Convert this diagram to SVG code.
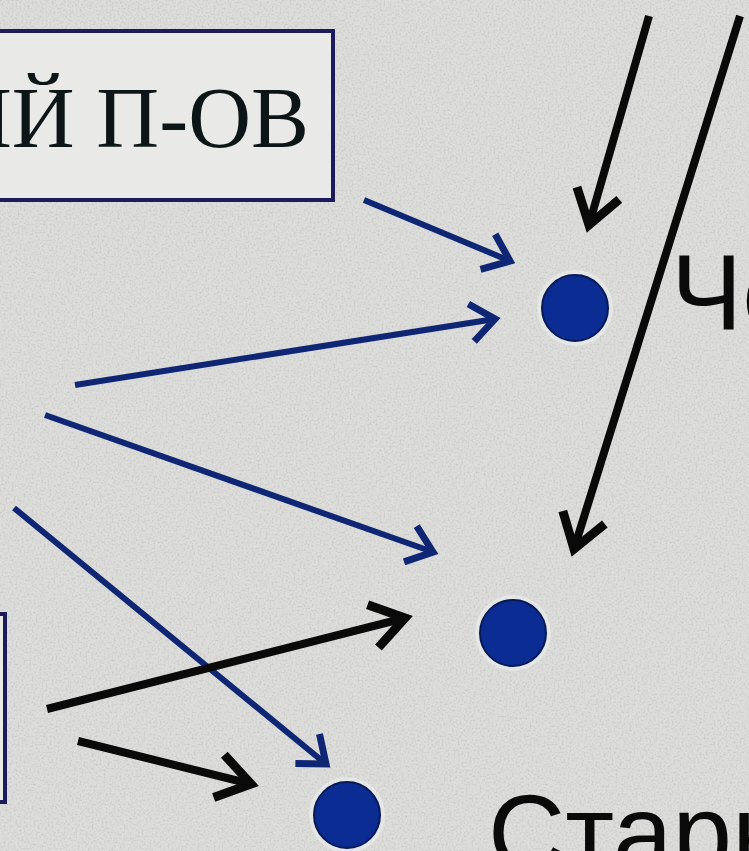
<svg xmlns="http://www.w3.org/2000/svg" width="749" height="851" viewBox="0 0 749 851">
  <style>
    .box { fill: #e9e9e8; stroke: #1d1b5c; stroke-width: 4; }
    .serif { font-family: "Liberation Serif", "Times New Roman", serif; fill: #0d1616; }
    .sans { font-family: "Liberation Sans", Arial, sans-serif; fill: #0a0a0a; }
    .dot { fill: #0b2c92; stroke: #071a55; stroke-width: 2; }
    .halo { fill: #eef0f2; opacity: 0.55; }
    .blue { stroke: #0f2674; stroke-width: 6; fill: none; marker-end: url(#hb); }
    .black { stroke: #0a0a0a; stroke-width: 8; fill: none; marker-end: url(#hk); }
  </style>
  <defs>
    <filter id="noise" x="0" y="0" width="100%" height="100%">
      <feTurbulence type="fractalNoise" baseFrequency="0.5" numOctaves="2" seed="4" result="n"/>
      <feColorMatrix type="matrix" values="0 0 0 0 0.55  0 0 0 0 0.55  0 0 0 0 0.54  0 0 0 -2.6 1.45" in="n"/>
    </filter>
    <marker id="hb" markerUnits="userSpaceOnUse" viewBox="-40 -30 50 60" refX="0" refY="0" markerWidth="50" markerHeight="60" orient="auto" overflow="visible">
      <path d="M-24,-19 L0,0 L-24,19" fill="none" stroke="#0f2674" stroke-width="7" stroke-linejoin="miter"/>
    </marker>
    <marker id="hk" markerUnits="userSpaceOnUse" viewBox="-50 -35 60 70" refX="0" refY="0" markerWidth="60" markerHeight="70" orient="auto" overflow="visible">
      <path d="M-33,-22 L0,0 L-33,22" fill="none" stroke="#0a0a0a" stroke-width="9" stroke-linejoin="miter"/>
    </marker>
  </defs>

  <rect width="749" height="851" fill="#dddddb"/>
  <rect width="749" height="851" filter="url(#noise)" opacity="0.75"/>

  <g id="box-top">
    <rect class="box" x="-10" y="31" width="343" height="169"/>
    <text class="serif" x="309" y="147" font-size="87" text-anchor="end">ИЙ П-ОВ</text>
  </g>

  <g id="box-bottom-left">
    <rect class="box" x="-20" y="614" width="25" height="188"/>
  </g>

  <g id="node-che">
    <circle class="halo" cx="575" cy="308" r="38"/>
    <circle class="dot" cx="575" cy="308" r="33"/>
    <text class="sans" x="671" y="330" font-size="107">Че</text>
  </g>

  <g id="node-middle">
    <circle class="halo" cx="513" cy="633" r="38"/>
    <circle class="dot" cx="513" cy="633" r="33"/>
  </g>

  <g id="node-starn">
    <circle class="halo" cx="347" cy="815" r="38"/>
    <circle class="dot" cx="347" cy="815" r="33"/>
    <text class="sans" x="488" y="870" font-size="107">Старн</text>
  </g>

  <g id="connectors">
    <line class="blue" x1="364" y1="200" x2="510" y2="261"/>
    <line class="blue" x1="75" y1="385" x2="495" y2="319"/>
    <line class="blue" x1="45" y1="415" x2="433" y2="552"/>
    <line class="blue" x1="14" y1="508" x2="326" y2="764"/>
    <line class="black" x1="649" y1="16" x2="589" y2="225"/>
    <line class="black" x1="740" y1="16" x2="574" y2="549"/>
    <line class="black" x1="47" y1="709" x2="405" y2="618"/>
    <line class="black" x1="78" y1="741" x2="251" y2="784"/>
  </g>
</svg>
